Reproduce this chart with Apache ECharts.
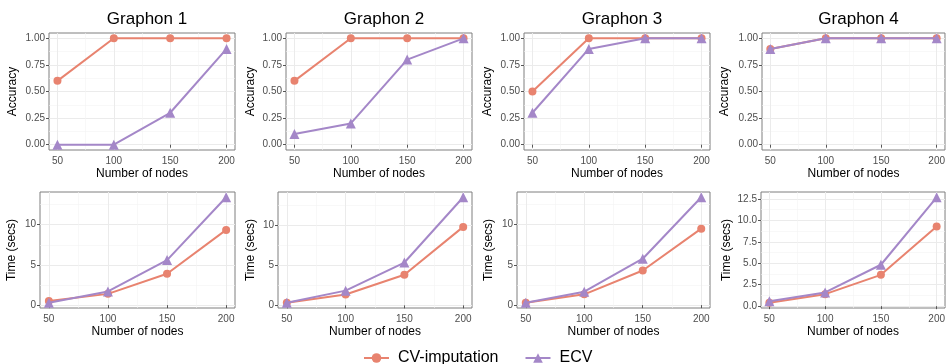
<!DOCTYPE html>
<html>
<head>
<meta charset="utf-8">
<script src="https://cdn.jsdelivr.net/npm/echarts@6/dist/echarts.min.js"></script>
<style>
html, body { margin: 0; padding: 0; background: #fff; }
#main { width: 948px; height: 364px; }
</style>
</head>
<body>
<div id="main"></div>
<script>
// data
var nodes = [50, 100, 150, 200];
var titles = ['Graphon 1', 'Graphon 2', 'Graphon 3', 'Graphon 4'];
var accCV = [[0.6, 1, 1, 1], [0.6, 1, 1, 1], [0.5, 1, 1, 1], [0.9, 1, 1, 1]];
var accECV = [[0, 0, 0.3, 0.9], [0.1, 0.2, 0.8, 1], [0.3, 0.9, 1, 1], [0.9, 1, 1, 1]];
var timeCV = [[0.5, 1.4, 3.9, 9.35], [0.33, 1.35, 3.83, 9.8], [0.3, 1.34, 4.3, 9.5], [0.4, 1.4, 3.65, 9.3]];
var timeECV = [[0.3, 1.7, 5.6, 13.4], [0.33, 1.84, 5.35, 13.5], [0.3, 1.67, 5.77, 13.4], [0.57, 1.6, 4.83, 12.7]];
var accTicks = [0, 0.25, 0.5, 0.75, 1];
var timeTicks = [[0, 5, 10], [0, 5, 10], [0, 5, 10], [0, 2.5, 5, 7.5, 10, 12.5]];

// layout (pixels)
var accLeft = [49, 286, 524, 762], accRight = [235, 472, 710, 945];
var timeLeft = [40, 278, 517, 761], timeRight = [235, 472, 710, 946];
var accNameGap = [30, 29, 30, 31], timeNameGap = [22, 21, 22, 28];

var colCV = '#e8836f', colECV = '#a487c8';
var font = 'Liberation Sans, Arial, Helvetica, sans-serif';

var chartDom = document.getElementById('main');
var myChart = echarts.init(chartDom);

function expand(lo, hi) {
  var r = hi - lo;
  return [lo - 0.05 * r, hi + 0.05 * r];
}
function minorOf(ticks, max) {
  var out = [];
  for (var i = 0; i < ticks.length - 1; i++) out.push((ticks[i] + ticks[i + 1]) / 2);
  var step = ticks[1] - ticks[0];
  if (ticks[ticks.length - 1] + step / 2 < max) out.push(ticks[ticks.length - 1] + step / 2);
  return out;
}

var grids = [], xAxes = [], yAxes = [], series = [], titleList = [];
var xr = expand(nodes[0], nodes[nodes.length - 1]);

function addPanel(left, right, top, height, yr, yTicks, digits, yName, nameGap, cv, ecv) {
  var g = grids.length;
  grids.push({
    left: left, top: top, width: right - left, height: height,
    show: true, backgroundColor: '#fff', borderColor: '#7f7f7f', borderWidth: 1
  });
  // major x
  xAxes.push({
    type: 'value', gridIndex: g, min: xr[0], max: xr[1],
    axisLine: { show: false },
    axisTick: { show: true, length: 3, customValues: nodes, lineStyle: { color: '#555' } },
    axisLabel: { customValues: nodes, margin: 6, color: '#4d4d4d', fontSize: 10, fontFamily: font },
    splitLine: { show: true, lineStyle: { color: '#ebebeb', width: 1 } },
    name: 'Number of nodes', nameLocation: 'middle', nameGap: 18,
    nameTextStyle: { color: '#000', fontSize: 12, fontFamily: font }
  });
  // minor x
  xAxes.push({
    type: 'value', gridIndex: g, min: xr[0], max: xr[1], position: 'bottom',
    axisLine: { show: false },
    axisTick: { show: false, customValues: minorOf(nodes, xr[1]) },
    axisLabel: { show: false },
    splitLine: { show: true, lineStyle: { color: '#f4f4f4', width: 0.6 } }
  });
  yAxes.push({
    type: 'value', gridIndex: g, min: yr[0], max: yr[1],
    axisLine: { show: false },
    axisTick: { show: true, length: 3, customValues: yTicks, lineStyle: { color: '#555' } },
    axisLabel: {
      customValues: yTicks, margin: 4, color: '#4d4d4d', fontSize: 10, fontFamily: font,
      formatter: function (v) { return v.toFixed(digits); }
    },
    splitLine: { show: true, lineStyle: { color: '#ebebeb', width: 1 } },
    name: yName, nameLocation: 'middle', nameGap: nameGap,
    nameTextStyle: { color: '#000', fontSize: 12, fontFamily: font }
  });
  yAxes.push({
    type: 'value', gridIndex: g, min: yr[0], max: yr[1], position: 'left',
    axisLine: { show: false },
    axisTick: { show: false, customValues: minorOf(yTicks, yr[1]) },
    axisLabel: { show: false },
    splitLine: { show: true, lineStyle: { color: '#f4f4f4', width: 0.6 } }
  });
  series.push({
    type: 'line', name: 'CV-imputation', xAxisIndex: 2 * g, yAxisIndex: 2 * g,
    data: nodes.map(function (n, j) { return [n, cv[j]]; }),
    symbol: 'circle', symbolSize: 8, clip: false, z: 3,
    lineStyle: { width: 2, color: colCV }, itemStyle: { color: colCV }
  });
  series.push({
    type: 'line', name: 'ECV', xAxisIndex: 2 * g, yAxisIndex: 2 * g,
    data: nodes.map(function (n, j) { return [n, ecv[j]]; }),
    symbol: 'triangle', symbolSize: 10, clip: false, z: 4,
    lineStyle: { width: 2, color: colECV }, itemStyle: { color: colECV }
  });
}

for (var i = 0; i < 4; i++) {
  addPanel(accLeft[i], accRight[i], 33, 117, expand(0, 1), accTicks, 2, 'Accuracy', accNameGap[i], accCV[i], accECV[i]);
  titleList.push({
    text: titles[i], left: (accLeft[i] + accRight[i]) / 2, top: 6, textAlign: 'center',
    textStyle: { fontSize: 17, fontWeight: 'normal', color: '#000', fontFamily: font }
  });
}
for (var k = 0; k < 4; k++) {
  var all = timeCV[k].concat(timeECV[k]);
  var yr = expand(Math.min.apply(null, all), Math.max.apply(null, all));
  addPanel(timeLeft[k], timeRight[k], 192, 116, yr, timeTicks[k], k === 3 ? 1 : 0, 'Time (secs)', timeNameGap[k], timeCV[k], timeECV[k]);
}

var option = {
  animation: false,
  title: titleList,
  legend: {
    data: ['CV-imputation', 'ECV'],
    left: 358, top: 345,
    itemWidth: 25, itemHeight: 12, itemGap: 26,
    textStyle: { fontSize: 16, color: '#000', fontFamily: font, padding: [0, 0, 0, 4] }
  },
  grid: grids,
  xAxis: xAxes,
  yAxis: yAxes,
  series: series
};

option && myChart.setOption(option);
</script>
</body>
</html>
